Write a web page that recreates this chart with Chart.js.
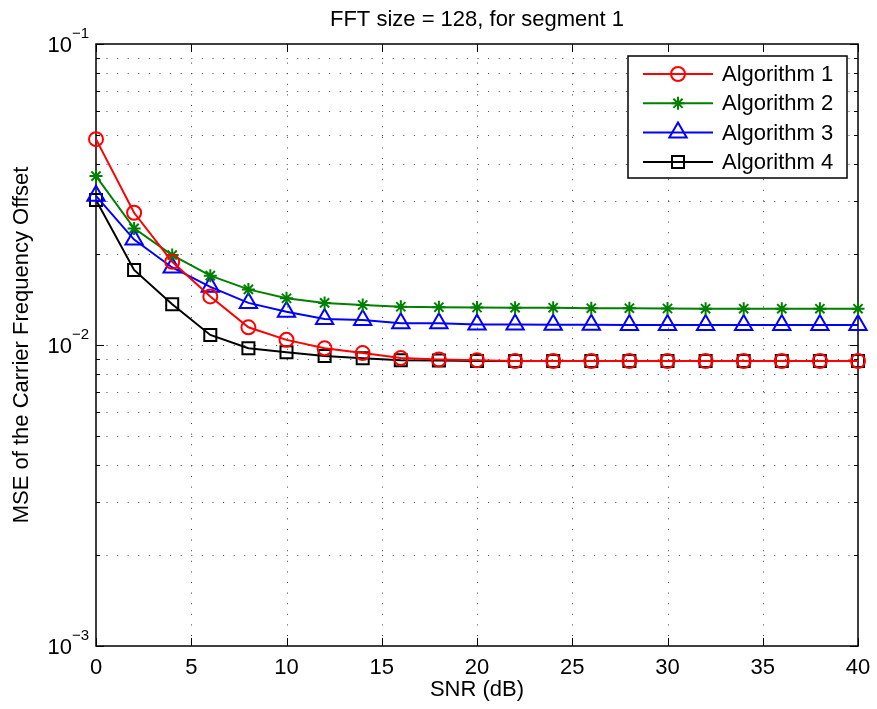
<!DOCTYPE html>
<html>
<head>
<meta charset="utf-8">
<title>FFT size = 128, for segment 1</title>
<script src="https://cdn.jsdelivr.net/npm/chart.js"></script>
<style>
  html, body { margin: 0; padding: 0; background: #fff; }
  #wrap { width: 877px; height: 709px; }
</style>
</head>
<body>
<div id="wrap"><canvas id="myChart" width="877" height="709"></canvas></div>
<script>
// SNR in dB
var snr = [0, 2, 4, 6, 8, 10, 12, 14, 16, 18, 20, 22, 24, 26, 28, 30, 32, 34, 36, 38, 40];

var alg1 = [0.0483, 0.0275, 0.0189, 0.0145, 0.01145, 0.0104, 0.00975, 0.0094, 0.00905, 0.00895, 0.0089,
            0.00885, 0.00885, 0.00885, 0.00885, 0.00885, 0.00885, 0.00885, 0.00885, 0.00885, 0.00885];
var alg2 = [0.0364, 0.0244, 0.0199, 0.0170, 0.0153, 0.0143, 0.0138, 0.01358, 0.0134, 0.01335, 0.01332,
            0.0133, 0.0133, 0.01325, 0.01325, 0.01322, 0.0132, 0.0132, 0.0132, 0.0132, 0.0132];
var alg3 = [0.0313, 0.0224, 0.0181, 0.0156, 0.0138, 0.0129, 0.0122, 0.0121, 0.0118, 0.0118, 0.0117,
            0.0117, 0.01168, 0.01168, 0.01166, 0.01166, 0.01165, 0.01165, 0.01165, 0.01165, 0.01165];
var alg4 = [0.0303, 0.01775, 0.01365, 0.0108, 0.00975, 0.00946, 0.00919, 0.00903, 0.0089, 0.00888, 0.00885,
            0.00885, 0.00885, 0.00885, 0.00885, 0.00885, 0.00885, 0.00885, 0.00885, 0.00885, 0.00885];

var xTicks = [0, 5, 10, 15, 20, 25, 30, 35, 40];
var yMajor = [0.001, 0.01, 0.1];
var yMajorLabels = ['\u22123', '\u22122', '\u22121'];
var yMinor = [0.002, 0.003, 0.004, 0.005, 0.006, 0.007, 0.008, 0.009,
              0.02, 0.03, 0.04, 0.05, 0.06, 0.07, 0.08, 0.09];

var FONT = '"Liberation Sans", Arial, Helvetica, sans-serif';

function pts(arr) {
    return snr.map(function (x, i) { return { x: x, y: arr[i] }; });
}

var series = [
    { label: 'Algorithm 1', data: alg1, color: '#ff0000', style: 'circle', r: 7 },
    { label: 'Algorithm 2', data: alg2, color: '#008000', style: 'star', r: 6.5 },
    { label: 'Algorithm 3', data: alg3, color: '#0000ff', style: 'triangle', r: 10 },
    { label: 'Algorithm 4', data: alg4, color: '#000000', style: 'rect', r: 8.5 }
];

// draw one marker (used for the legend)
function marker(ctx, s, x, y) {
    if (Chart.helpers && Chart.helpers.drawPoint) {
        ctx.save();
        ctx.strokeStyle = s.color;
        ctx.fillStyle = 'rgba(0,0,0,0)';
        ctx.lineWidth = 2;
        Chart.helpers.drawPoint(ctx, { pointStyle: s.style, radius: s.r, rotation: 0, borderWidth: 2 }, x, y);
        ctx.restore();
    }
}

var matlabAxes = {
    id: 'matlabAxes',
    beforeDatasetsDraw: function (chart) {
        var ctx = chart.ctx, a = chart.chartArea;
        var xs = chart.scales.x, ys = chart.scales.y;
        ctx.save();

        // dotted grid
        ctx.strokeStyle = '#404040';
        ctx.lineWidth = 1;
        ctx.setLineDash([1, 9.6]);
        xTicks.forEach(function (v) {
            if (v === 0 || v === 40) return;
            var px = Math.round(xs.getPixelForValue(v)) + 0.5;
            ctx.beginPath();
            ctx.moveTo(px, a.bottom - 10);
            ctx.lineTo(px, a.top + 10);
            ctx.stroke();
        });
        yMinor.concat([0.01]).forEach(function (v) {
            var py = Math.round(ys.getPixelForValue(v)) + 0.5;
            ctx.beginPath();
            ctx.moveTo(a.left + 10.5, py);
            ctx.lineTo(a.right - 4, py);
            ctx.stroke();
        });
        ctx.setLineDash([]);

        // box
        ctx.strokeStyle = '#000';
        ctx.lineWidth = 1.5;
        ctx.strokeRect(a.left, a.top, a.right - a.left, a.bottom - a.top);

        // ticks
        ctx.lineWidth = 1;
        xTicks.forEach(function (v) {
            var px = Math.round(xs.getPixelForValue(v)) + 0.5;
            ctx.beginPath();
            ctx.moveTo(px, a.bottom); ctx.lineTo(px, a.bottom - 8);
            ctx.moveTo(px, a.top); ctx.lineTo(px, a.top + 8);
            ctx.stroke();
        });
        yMajor.forEach(function (v) {
            var py = Math.round(ys.getPixelForValue(v)) + 0.5;
            ctx.beginPath();
            ctx.moveTo(a.left, py); ctx.lineTo(a.left + 8, py);
            ctx.moveTo(a.right, py); ctx.lineTo(a.right - 8, py);
            ctx.stroke();
        });
        yMinor.forEach(function (v) {
            var py = Math.round(ys.getPixelForValue(v)) + 0.5;
            ctx.beginPath();
            ctx.moveTo(a.left, py); ctx.lineTo(a.left + 4, py);
            ctx.moveTo(a.right, py); ctx.lineTo(a.right - 4, py);
            ctx.stroke();
        });

        // tick labels
        ctx.fillStyle = '#000';
        ctx.font = '22px ' + FONT;
        ctx.textAlign = 'center';
        ctx.textBaseline = 'middle';
        xTicks.forEach(function (v) {
            ctx.fillText(String(v), xs.getPixelForValue(v), a.bottom + 22);
        });
        yMajor.forEach(function (v, i) {
            var py = ys.getPixelForValue(v);
            ctx.font = '22px ' + FONT;
            ctx.textAlign = 'right';
            ctx.fillText('10', 72, py + 2);
            ctx.font = '15px ' + FONT;
            ctx.textAlign = 'left';
            ctx.fillText(yMajorLabels[i], 72, py - 10);
        });

        // titles
        ctx.font = '22px ' + FONT;
        ctx.textAlign = 'center';
        var cx = (a.left + a.right) / 2;
        ctx.fillText('FFT size = 128, for segment 1', cx, 20);
        ctx.fillText('SNR (dB)', cx, 690);
        ctx.save();
        ctx.translate(22, (a.top + a.bottom) / 2);
        ctx.rotate(-Math.PI / 2);
        ctx.fillText('MSE of the Carrier Frequency Offset', 0, 0);
        ctx.restore();

        ctx.restore();
    },
    afterDatasetsDraw: function (chart) {
        var ctx = chart.ctx;
        ctx.save();
        // legend box
        var bx = 628, by = 56, bw = 219, bh = 122;
        ctx.fillStyle = '#fff';
        ctx.fillRect(bx, by, bw, bh);
        ctx.strokeStyle = '#000';
        ctx.lineWidth = 1.5;
        ctx.strokeRect(bx, by, bw, bh);
        series.forEach(function (s, i) {
            var y = by + 18 + i * 29.3;
            ctx.strokeStyle = s.color;
            ctx.lineWidth = 2;
            ctx.beginPath();
            ctx.moveTo(643, y); ctx.lineTo(713, y);
            ctx.stroke();
            marker(ctx, s, 678, y);
            ctx.fillStyle = '#000';
            ctx.font = '22px ' + FONT;
            ctx.textAlign = 'left';
            ctx.textBaseline = 'middle';
            ctx.fillText(s.label, 722, y + 1);
        });
        ctx.restore();
    }
};

var ctx = document.getElementById('myChart').getContext('2d');
var chart = new Chart(ctx, {
    type: 'line',
    data: {
        datasets: series.map(function (s) {
            return {
                label: s.label,
                data: pts(s.data),
                borderColor: s.color,
                backgroundColor: 'rgba(0,0,0,0)',
                borderWidth: 2,
                pointStyle: s.style,
                pointRadius: s.r,
                pointBorderColor: s.color,
                pointBackgroundColor: 'rgba(0,0,0,0)',
                pointBorderWidth: 2,
                tension: 0,
                fill: false,
                clip: false
            };
        })
    },
    options: {
        responsive: false,
        animation: false,
        layout: { padding: { top: 44, right: 19, left: 0, bottom: 0 } },
        plugins: { legend: { display: false }, title: { display: false }, tooltip: { enabled: false } },
        scales: {
            x: {
                type: 'linear', min: 0, max: 40,
                grid: { display: false }, border: { display: false },
                ticks: { display: false },
                afterFit: function (scale) { scale.height = 63; }
            },
            y: {
                type: 'logarithmic', min: 0.001, max: 0.1,
                grid: { display: false }, border: { display: false },
                ticks: { display: false },
                afterFit: function (scale) { scale.width = 96; }
            }
        }
    },
    plugins: [matlabAxes]
});
</script>
</body>
</html>
